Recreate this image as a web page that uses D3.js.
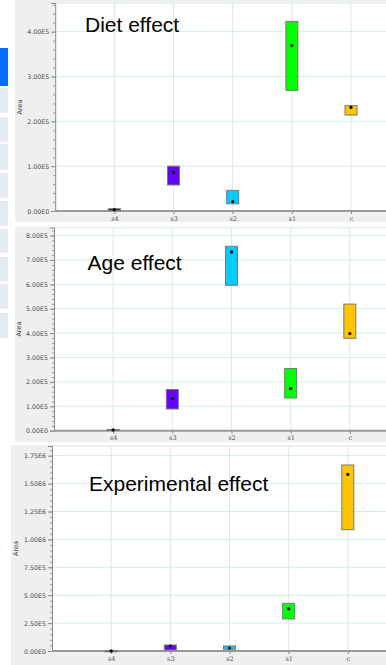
<!DOCTYPE html>
<html>
<head>
<meta charset="utf-8">
<script src="https://cdn.jsdelivr.net/npm/d3@7"></script>
<style>
body { margin: 0; background: #fff; overflow: hidden; }
svg { display: block; }
</style>
</head>
<body>
<script>
// categories along the x axis
var categories = ["s4", "s3", "s2", "s1", "c"];
var colors = ["#222222", "#6600ff", "#00ccff", "#00ff00", "#ffc400"];

// Diet effect (box low / high / median dot)
var dietLow  = [1000, 58000, 16000, 269000, 214000];
var dietHigh = [5000, 100000, 46000, 423000, 235000];
var dietMid  = [3000, 86000, 21000, 369000, 231000];

// Age effect
var ageLow  = [1000, 89000, 596000, 134000, 379000];
var ageHigh = [5000, 169000, 756000, 255000, 519000];
var ageMid  = [3000, 132000, 733000, 173000, 398000];

// Experimental effect
var expLow  = [0, 9000, 15000, 287000, 1087000];
var expHigh = [2000, 54000, 45000, 427000, 1667000];
var expMid  = [1000, 45000, 27000, 379000, 1583000];

var titles = ["Diet effect", "Age effect", "Experimental effect"];
var yTicks1 = [0, 100000, 200000, 300000, 400000];
var yTicks2 = [0, 100000, 200000, 300000, 400000, 500000, 600000, 700000, 800000];
var yTicks3 = [0, 250000, 500000, 750000, 1000000, 1250000, 1500000, 1750000];

var svg = d3.select("body").append("svg").attr("width", 386).attr("height", 665);

// left sidebar fragments
var sideBoxes = [[48, 86], [88, 113], [117, 142], [144, 170], [173, 198], [201, 226], [229, 253], [257, 281], [284, 309], [313, 338]];
svg.selectAll(".side").data(sideBoxes).enter().append("rect")
    .attr("x", 0).attr("width", 8)
    .attr("y", function (d) { return d[0]; })
    .attr("height", function (d) { return d[1] - d[0]; })
    .attr("fill", function (d, i) { return i == 0 ? "#0a6cff" : "#e6eaf3"; });

function sciFormat(v) {
    if (v == 0) return "0.00E0";
    var e = Math.floor(Math.log10(v));
    return (v / Math.pow(10, e)).toFixed(2) + "E" + e;
}

function drawPanel(p) {
    var g = svg.append("g");
    g.append("rect").attr("x", p.bgX).attr("y", p.bgY).attr("width", 386 - p.bgX).attr("height", p.bgH)
        .attr("fill", "#efefef");
    g.append("rect").attr("x", p.left).attr("y", p.top).attr("width", 386 - p.left).attr("height", p.bottom - p.top)
        .attr("fill", "#fff");

    var x = d3.scalePoint().domain(categories).range([p.left, p.left + 355]).padding(1);
    var y = d3.scaleLinear().domain([0, p.yMax]).range([p.bottom, p.top]);

    // grid
    g.selectAll(".hg").data(p.ticks.slice(1)).enter().append("line")
        .attr("x1", p.left).attr("x2", 386)
        .attr("y1", function (d) { return y(d); }).attr("y2", function (d) { return y(d); })
        .attr("stroke", "#d4ecec").attr("stroke-width", 1);
    g.append("line").attr("x1", p.left).attr("x2", 386).attr("y1", p.top + 0.5).attr("y2", p.top + 0.5)
        .attr("stroke", "#e4f2f2");
    g.selectAll(".vg").data(categories).enter().append("line")
        .attr("x1", function (d) { return x(d); }).attr("x2", function (d) { return x(d); })
        .attr("y1", p.top).attr("y2", p.bottom)
        .attr("stroke", "#d4ecec").attr("stroke-width", 1);

    // y axis
    var step = p.ticks[1] - p.ticks[0];
    var minor = d3.range(0, p.yMax, step / 5);
    var yAxis = g.append("g").attr("transform", "translate(" + p.left + ",0)")
        .call(d3.axisLeft(y).tickValues(p.ticks).tickFormat(sciFormat).tickSizeOuter(0).tickSize(4).tickPadding(2));
    yAxis.select(".domain").attr("stroke", "#888");
    yAxis.selectAll(".tick line").attr("stroke", "#888");
    yAxis.selectAll("text").attr("fill", "#4a4a4a").style("font", "6.3px 'DejaVu Sans'");
    g.append("g").attr("transform", "translate(" + p.left + ",0)")
        .call(d3.axisLeft(y).tickValues(minor).tickFormat("").tickSize(2).tickSizeOuter(0))
        .call(function (s) { s.select(".domain").remove(); s.selectAll("line").attr("stroke", "#999"); });

    g.append("text").attr("transform", "translate(" + p.labelX + "," + ((p.top + p.bottom) / 2) + ") rotate(-90)")
        .attr("text-anchor", "middle").attr("fill", "#4a4a4a")
        .style("font", "6.5px 'DejaVu Sans'").text("Area");

    // x axis
    var xAxis = g.append("g").attr("transform", "translate(0," + p.bottom + ")")
        .call(d3.axisBottom(x).tickSize(3).tickSizeOuter(0).tickPadding(2));
    xAxis.select(".domain").attr("stroke", "#999").attr("stroke-width", 2)
        .attr("d", "M" + p.left + ",0H386");
    xAxis.selectAll(".tick line").attr("stroke", "#888");
    xAxis.selectAll("text").attr("fill", "#4a4a4a").style("font", "6.5px 'DejaVu Serif'");

    // boxes
    g.selectAll(".box").data(categories).enter().append("rect")
        .attr("x", function (d) { return x(d) - 6; })
        .attr("width", 12)
        .attr("y", function (d, i) { return y(p.high[i]); })
        .attr("height", function (d, i) { return Math.max(1, y(p.low[i]) - y(p.high[i])); })
        .attr("fill", function (d, i) { return colors[i]; })
        .attr("stroke", "#7a7a7a").attr("stroke-width", 1);
    g.selectAll(".dot").data(categories).enter().append("circle")
        .attr("cx", function (d) { return x(d); })
        .attr("cy", function (d, i) { return y(p.mid[i]); })
        .attr("r", 1.6).attr("fill", "#000");

    g.append("text").attr("x", p.titleX).attr("y", p.titleY)
        .style("font", "21px 'Liberation Sans', Arial, sans-serif").attr("fill", "#000")
        .text(p.title);
}

drawPanel({ bgX: 15, bgY: 0, bgH: 222, left: 55.2, top: 3, bottom: 211, yMax: 464000, ticks: yTicks1,
    low: dietLow, high: dietHigh, mid: dietMid, title: titles[0], titleX: 85, titleY: 32, labelX: 22 });
drawPanel({ bgX: 15, bgY: 226.5, bgH: 215.5, left: 54, top: 227.5, bottom: 430.7, yMax: 833000, ticks: yTicks2,
    low: ageLow, high: ageHigh, mid: ageMid, title: titles[1], titleX: 87.5, titleY: 270, labelX: 21 });
drawPanel({ bgX: 11, bgY: 445, bgH: 220, left: 52, top: 446, bottom: 651, yMax: 1837000, ticks: yTicks3,
    low: expLow, high: expHigh, mid: expMid, title: titles[2], titleX: 89, titleY: 491, labelX: 18 });
</script>
</body>
</html>
